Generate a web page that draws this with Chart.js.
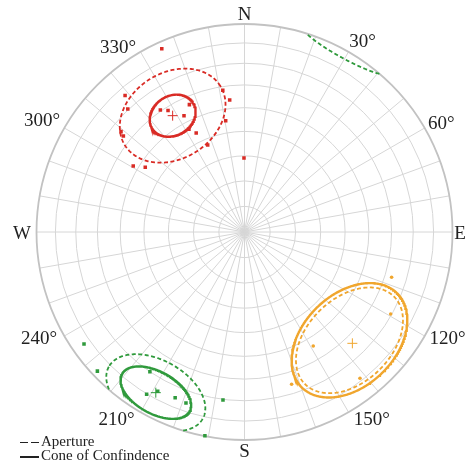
<!DOCTYPE html>
<html>
<head>
<meta charset="utf-8">
<script src="https://cdn.jsdelivr.net/npm/chart.js@4.4.0/dist/chart.umd.min.js"></script>
<style>
    html, body { margin: 0; padding: 0; background: #fff; }
    #wrap { position: relative; width: 468px; height: 468px; overflow: hidden; }
    canvas { position: absolute; left: 0; top: 0; }
    .lbl { position: absolute; font-family: 'Liberation Serif', 'DejaVu Serif', serif; font-size: 19px; line-height: 1; color: #222; transform: translate(-50%, -50%); white-space: nowrap; }
    .leg { position: absolute; left: 41px; font-family: 'Liberation Serif', 'DejaVu Serif', serif; font-size: 15px; line-height: 1; color: #222; white-space: nowrap; }
    .sw { position: absolute; height: 0; border-top: 1.6px solid #222; }
</style>
</head>
<body>
<div id="wrap">
    <canvas id="net" width="468" height="468"></canvas>
</div>
<script>
// Orientations: trend / plunge in degrees (lower hemisphere)
const redTrend = [335.7, 318.8, 316.5, 309.1, 308.4, 300.7, 303.1, 325.4, 327.8, 332.5, 336.6, 331.6, 334.0, 337.1, 351.3, 353.6, 350.4, 359.6];
const redPlunge = [3.8, 13.9, 19.6, 24.5, 26.6, 37.8, 42.5, 29.5, 31.6, 37.1, 33.7, 43.2, 46.0, 52.5, 31.6, 36.3, 44.9, 60.9];
const greenTrend = [235.1, 226.6, 214.1, 211.1, 208.6, 202.7, 198.9, 187.3, 191.0];
const greenPlunge = [6.6, 3.0, 20.0, 9.8, 13.9, 14.7, 14.2, 19.7, 0.3];
const orangeTrend = [107.1, 119.3, 148.9, 162.8, 141.7];
const orangePlunge = [26.9, 20.5, 36.2, 24.4, 11.4];

// Mean direction of each set (red, green, orange)
const meanTrend = [328.3, 208.9, 135.9];
const meanPlunge = [34.6, 12.8, 26.4];

// Centre of each set's ellipses
const coneTrend = [328.3, 208.9, 135.9];
const conePlunge = [34.6, 12.8, 28.3];

// Ellipse half-axes in units of the net radius: [across dip, along dip]
const coneConfidence = [[0.116, 0.095], [0.186, 0.101], [0.322, 0.222]];
const coneAperture = [[0.270, 0.207], [0.258, 0.156], [0.300, 0.202]];

// Net grid: small circles of equal plunge and spokes of equal trend
const ringPlunges = [10, 20, 30, 40, 50, 60, 70, 80];
const spokeTrends = [0, 10, 20, 30, 40, 50, 60, 70, 80, 90, 100, 110, 120, 130, 140, 150, 160, 170,
    180, 190, 200, 210, 220, 230, 240, 250, 260, 270, 280, 290, 300, 310, 320, 330, 340, 350];

// Rim labels
const rimLabels = ['N', '30°', '60°', 'E', '120°', '150°', 'S', '210°', '240°', 'W', '300°', '330°'];
const rimLabelAz = [0, 31.6, 60.7, 90, 117.3, 145.6, 180, 214.5, 242.9, 270, 299.1, 325.8];
const rimLabelR = [1.053, 1.084, 1.085, 1.036, 1.099, 1.083, 1.05, 1.085, 1.11, 1.07, 1.114, 1.081];

const colors = ['#d92b25', '#2f9a3c', '#f0a62e'];
const markStyle = ['rect', 'rect', 'circle'];
const markSize = [2.5, 2.5, 1.8];
const D = Math.PI / 180;

function toVec(trend, plunge) {
    const t = trend * D, p = plunge * D;
    return [Math.cos(p) * Math.sin(t), Math.cos(p) * Math.cos(t), Math.sin(p)];
}

// Equal-area (Schmidt) projection, lower hemisphere
function project(v) {
    let [x, y, z] = v;
    if (z < 0) { x = -x; y = -y; z = -z; }
    const k = 1 / Math.sqrt(1 + z);
    return { x: x * k, y: y * k };
}

function toPoints(trends, plunges) {
    return trends.map((t, i) => project(toVec(t, plunges[i])));
}

// Ellipse on the net round the set centre; any part past the rim
// comes back on the opposite side (upper hemisphere folded down)
function ellipsePath(i, axes) {
    const c = project(toVec(coneTrend[i], conePlunge[i]));
    const rc = Math.hypot(c.x, c.y);
    const ur = [c.x / rc, c.y / rc];
    const ut = [ur[1], -ur[0]];
    const out = [];
    let prevIn = null;
    for (let k = 0; k <= 360; k++) {
        const s = k / 360 * 2 * Math.PI;
        let px = c.x + axes[0] * Math.cos(s) * ut[0] + axes[1] * Math.sin(s) * ur[0];
        let py = c.y + axes[0] * Math.cos(s) * ut[1] + axes[1] * Math.sin(s) * ur[1];
        const r = Math.hypot(px, py);
        const inside = r <= 1;
        if (!inside) {
            const r2 = Math.sqrt(Math.max(0, 2 - r * r));
            px = -px / r * r2;
            py = -py / r * r2;
        }
        if (prevIn !== null && inside !== prevIn) out.push({ x: null, y: null });
        prevIn = inside;
        out.push({ x: px, y: py });
    }
    return out;
}

const netGrid = {
    id: 'netGrid',
    beforeDatasetsDraw(chart) {
        const { ctx, scales: { x, y } } = chart;
        const cx = x.getPixelForValue(0), cy = y.getPixelForValue(0);
        const R = x.getPixelForValue(1) - cx;
        ctx.save();
        ctx.strokeStyle = '#d6d6d6';
        ctx.lineWidth = 1;
        ringPlunges.forEach(pl => {
            ctx.beginPath();
            ctx.arc(cx, cy, R * Math.sqrt(1 - Math.sin(pl * D)), 0, 2 * Math.PI);
            ctx.stroke();
        });
        spokeTrends.forEach(tr => {
            ctx.beginPath();
            ctx.moveTo(cx, cy);
            ctx.lineTo(x.getPixelForValue(Math.sin(tr * D)), y.getPixelForValue(Math.cos(tr * D)));
            ctx.stroke();
        });
        ctx.strokeStyle = '#c2c2c2';
        ctx.lineWidth = 1.8;
        ctx.beginPath();
        ctx.arc(cx, cy, R, 0, 2 * Math.PI);
        ctx.stroke();
        ctx.restore();
    }
};

const pointSets = [
    toPoints(redTrend, redPlunge),
    toPoints(greenTrend, greenPlunge),
    toPoints(orangeTrend, orangePlunge)
];

const datasets = [];
colors.forEach((c, i) => {
    datasets.push({
        data: ellipsePath(i, coneAperture[i]),
        showLine: true, borderColor: c, borderWidth: 1.8, borderDash: [4, 2.5],
        pointRadius: 0, fill: false, spanGaps: false
    });
    datasets.push({
        data: ellipsePath(i, coneConfidence[i]),
        showLine: true, borderColor: c, borderWidth: 2.4,
        pointRadius: 0, fill: false, spanGaps: false
    });
    datasets.push({
        data: pointSets[i],
        pointStyle: markStyle[i], pointRadius: markSize[i], pointBorderWidth: 0, backgroundColor: c
    });
    datasets.push({
        data: [project(toVec(meanTrend[i], meanPlunge[i]))],
        pointStyle: 'cross', pointRadius: 5, borderWidth: 1, borderColor: c
    });
});

const chart = new Chart(document.getElementById('net').getContext('2d'), {
    type: 'scatter',
    data: { datasets: datasets },
    options: {
        responsive: false,
        animation: false,
        events: [],
        layout: { padding: { left: 36.5, right: 15.5, top: 24, bottom: 28 } },
        plugins: { legend: { display: false }, tooltip: { enabled: false } },
        scales: {
            x: { type: 'linear', min: -1, max: 1, display: false },
            y: { type: 'linear', min: -1, max: 1, display: false }
        }
    },
    plugins: [netGrid]
});

// Rim labels placed through the chart scales
const wrap = document.getElementById('wrap');
rimLabels.forEach((txt, i) => {
    const el = document.createElement('div');
    el.className = 'lbl';
    el.textContent = txt;
    const az = rimLabelAz[i] * D;
    el.style.left = chart.scales.x.getPixelForValue(rimLabelR[i] * Math.sin(az)) + 'px';
    el.style.top = chart.scales.y.getPixelForValue(rimLabelR[i] * Math.cos(az)) + 'px';
    wrap.appendChild(el);
});

// Legend
function addLegend(text, top, dashed) {
    const t = document.createElement('div');
    t.className = 'leg';
    t.style.top = top + 'px';
    t.textContent = text;
    wrap.appendChild(t);
    const lineY = top + 8;
    if (dashed) {
        [20, 30.5].forEach(x => {
            const s = document.createElement('div');
            s.className = 'sw';
            s.style.left = x + 'px'; s.style.top = lineY + 'px'; s.style.width = '8px';
            wrap.appendChild(s);
        });
    } else {
        const s = document.createElement('div');
        s.className = 'sw';
        s.style.left = '20px'; s.style.top = lineY + 'px'; s.style.width = '19px';
        s.style.borderTopWidth = '2px';
        wrap.appendChild(s);
    }
}
addLegend('Aperture', 434, true);
addLegend('Cone of Confindence', 448, false);
</script>
</body>
</html>
